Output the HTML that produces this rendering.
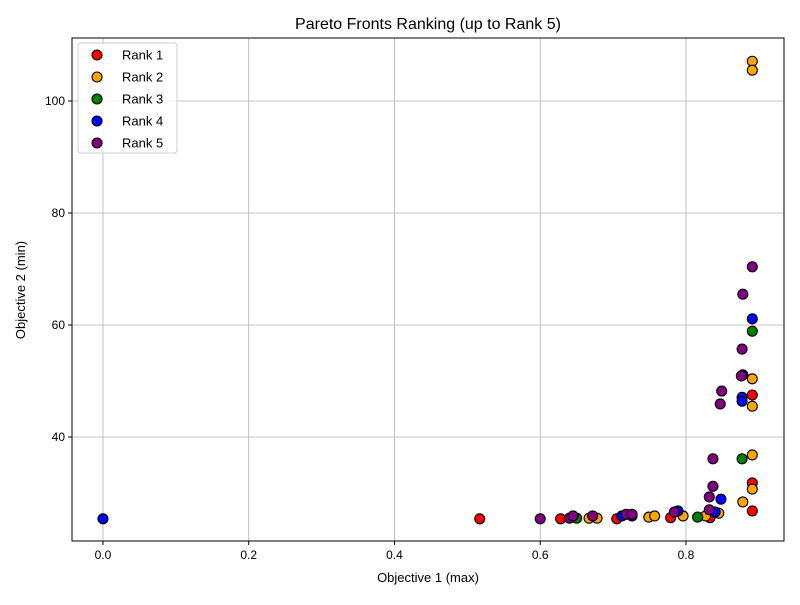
<!DOCTYPE html>
<html><head><meta charset="utf-8"><style>
body{margin:0;background:#fff;font-family:"Liberation Sans","DejaVu Sans",sans-serif}
svg text{font-family:"Liberation Sans","DejaVu Sans",sans-serif}
</style></head><body>
<svg id="chart" width="800" height="600">
<rect width="800" height="600" fill="#fff"/>
<g id="grid"></g><g id="ticks"></g><g id="marks"></g>
<rect x="72" y="38" width="712" height="503" fill="none" stroke="#000" stroke-width="1"/>
<text x="428" y="29" text-anchor="middle" font-size="16">Pareto Fronts Ranking (up to Rank 5)</text>
<text x="428" y="582" text-anchor="middle" font-size="13">Objective 1 (max)</text>
<text transform="translate(25,290) rotate(-90)" text-anchor="middle" font-size="13">Objective 2 (min)</text>
<g id="legend"></g>
</svg>
<script>
const rankNames=["Rank 1","Rank 2","Rank 3","Rank 4","Rank 5"];
const rankColors=["red","orange","green","blue","purple"];
const rank1X=[0.517,0.628,0.705,0.779,0.833,0.891,0.891,0.891];
const rank1Y=[25.4,25.4,25.4,25.6,25.6,31.8,26.8,47.5];
const rank2X=[0.667,0.678,0.749,0.757,0.796,0.827,0.845,0.878,0.891,0.891,0.891,0.891,0.891,0.891];
const rank2Y=[25.5,25.5,25.7,25.9,25.9,25.9,26.4,28.4,30.7,107.1,105.5,50.4,45.5,36.8];
const rank3X=[0.650,0.816,0.877,0.891];
const rank3Y=[25.5,25.7,36.1,58.9];
const rank4X=[0.0,0.712,0.726,0.789,0.840,0.848,0.891,0.877,0.877,0.878];
const rank4Y=[25.4,25.9,25.9,26.8,26.6,28.9,61.1,47.1,46.4,51.1];
const rank5X=[0.600,0.640,0.645,0.672,0.718,0.726,0.784,0.832,0.832,0.837,0.891,0.878,0.877,0.876,0.849,0.847,0.837];
const rank5Y=[25.4,25.5,25.9,25.9,26.2,26.2,26.6,27.0,29.3,31.2,70.4,65.5,55.7,50.9,48.2,45.9,36.1];
const xTicks=[0,0.2,0.4,0.6,0.8];
const xTickLabels=["0.0","0.2","0.4","0.6","0.8"];
const yTicks=[40,60,80,100];
const yTickLabels=["40","60","80","100"];
const xMin=-0.0425,xMax=0.9345,yMin=21.43,yMax=111.25;
const L=72,R=784,T=38,B=541;
const sx=v=>L+(v-xMin)/(xMax-xMin)*(R-L);
const sy=v=>B-(v-yMin)/(yMax-yMin)*(B-T);
const NS="http://www.w3.org/2000/svg";
function mk(t,a,p){const e=document.createElementNS(NS,t);for(const k in a)e.setAttribute(k,a[k]);p.appendChild(e);return e;}
const grid=document.getElementById('grid'),ticks=document.getElementById('ticks'),marks=document.getElementById('marks'),legend=document.getElementById('legend');
xTicks.forEach((v,i)=>{const x=sx(v);
const g=mk('line',{x1:x,x2:x,y1:T,y2:B,stroke:'#b0b0b0','stroke-width':0.8},grid);


mk('line',{x1:x,x2:x,y1:B,y2:B+4,stroke:'#000'},ticks);
const t=mk('text',{x:x,y:B+18,'text-anchor':'middle','font-size':12},ticks);t.textContent=xTickLabels[i];

});
yTicks.forEach((v,i)=>{const y=sy(v);
const g=mk('line',{x1:L,x2:R,y1:y,y2:y,stroke:'#b0b0b0','stroke-width':0.8},grid);


mk('line',{x1:L-4,x2:L,y1:y,y2:y,stroke:'#000'},ticks);
const t=mk('text',{x:L-7,y:y+4,'text-anchor':'end','font-size':12},ticks);t.textContent=yTickLabels[i];

});
const series=[[rank1X,rank1Y],[rank2X,rank2Y],[rank3X,rank3Y],[rank4X,rank4Y],[rank5X,rank5Y]];
series.forEach((s,r)=>{s[0].forEach((xv,i)=>{
const c=mk('circle',{cx:sx(xv),cy:sy(s[1][i]),r:5,fill:rankColors[r],stroke:'#000','stroke-width':1.1},marks);

});});
mk('rect',{x:78,y:43,width:99,height:110,rx:3,fill:'#fff','fill-opacity':0.8,stroke:'#ccc'},legend);
rankNames.forEach((n,i)=>{const y=55+i*22;
const e=mk('g',{},legend);


mk('circle',{cx:97,cy:y,r:5,fill:rankColors[i],stroke:'#000','stroke-width':1.1},e);
const t=mk('text',{x:122,y:y+4.5,'font-size':13},e);t.textContent=n;});
</script>
</body></html>
